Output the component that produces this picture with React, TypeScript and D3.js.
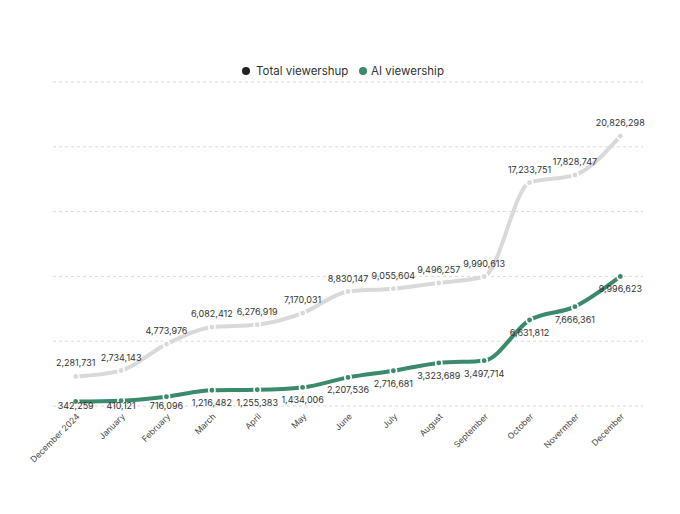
import React from "react";
import * as d3 from "d3";

const months = [
  "December 2024", "January", "February", "March", "April", "May", "June",
  "July", "August", "September", "October", "Novermber", "December",
];
const totalViewership = [
  2281731, 2734143, 4773976, 6082412, 6276919, 7170031, 8830147,
  9055604, 9496257, 9990613, 17233751, 17828747, 20826298,
];
const aiViewership = [
  342259, 410121, 716096, 1216482, 1255383, 1434006, 2207536,
  2716681, 3323689, 3497714, 6631812, 7666361, 9996623,
];
const yTicks = [0, 5000000, 10000000, 15000000, 20000000, 25000000];
const seriesNames = ["Total viewershup", "AI viewership"];

const W = 680;
const H = 514;
const GREEN = "#3b8a6c";
const GRAY = "#d9d9d9";
const FONT = "Inter, 'Noto Sans', sans-serif";

export default function App() {
  const x = d3.scalePoint<string>().domain(months).range([53, 643]).padding(0.5);
  const y = d3.scaleLinear().domain([0, 25000000]).range([406, 82]);
  const fmt = d3.format(",");
  const line = d3
    .line<number>()
    .x((_, i) => x(months[i]) as number)
    .y((d) => y(d))
    .curve(d3.curveMonotoneX);

  const series = [
    { name: seriesNames[0], values: totalViewership, color: GRAY, legend: "#222", above: true },
    { name: seriesNames[1], values: aiViewership, color: GREEN, legend: GREEN, above: false },
  ];

  return (
    <div style={{ position: "fixed", left: 0, top: 0 }}>
      <svg width={W} height={H} style={{ display: "block", background: "#fff" }} fontFamily={FONT}>
        {yTicks.map((t) => (
          <line
            key={t}
            x1={53}
            x2={643}
            y1={y(t)}
            y2={y(t)}
            stroke="#d9d9d9"
            strokeWidth={1}
            strokeDasharray="3,3"
          />
        ))}
        {/* legend */}
        <g>
          <circle cx={246} cy={71} r={4} fill="#222" />
          <text x={256} y={75} fontSize={11.5} fill="#333">{seriesNames[0]}</text>
          <circle cx={363} cy={71} r={4} fill={GREEN} />
          <text x={371} y={75} fontSize={11.5} fill="#333">{seriesNames[1]}</text>
        </g>
        {series.map((s) => (
          <g key={s.name}>
            <path d={line(s.values) || ""} fill="none" stroke={s.color} strokeWidth={4} strokeLinecap="round" />
            {s.values.map((v, i) => (
              <circle
                key={i}
                cx={x(months[i]) as number}
                cy={y(v)}
                r={3.2}
                fill={s.color}
                stroke="#fff"
                strokeWidth={1.5}
              />
            ))}
          </g>
        ))}
        {series.map((s) => (
          <g key={s.name + "-labels"}>
            {s.values.map((v, i) => (
              <text
                key={i}
                x={x(months[i]) as number}
                y={s.above ? y(v) - 10 : Math.min(y(v) + 16, 409)}
                textAnchor="middle"
                fontSize={9}
                fill="#333"
              >
                {fmt(v)}
              </text>
            ))}
          </g>
        ))}
        {months.map((m) => (
          <text
            key={m}
            transform={`translate(${(x(m) as number) + 4.5},${417}) rotate(-45)`}
            textAnchor="end"
            fontSize={8.5}
            fill="#444"
          >
            {m}
          </text>
        ))}
      </svg>
    </div>
  );
}
